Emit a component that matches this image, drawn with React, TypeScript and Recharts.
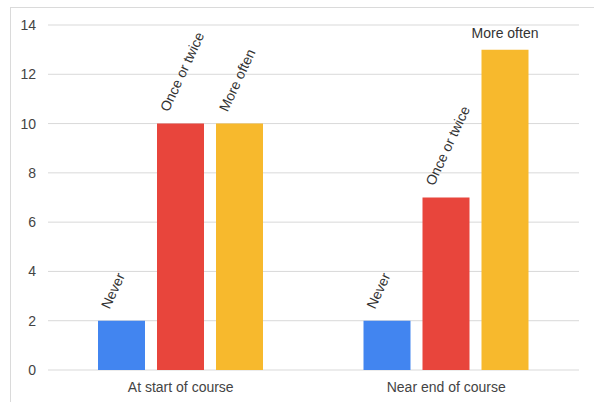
import { BarChart, Bar, XAxis, YAxis, CartesianGrid, LabelList } from 'recharts';

const categories = ['At start of course', 'Near end of course'];
const never = [2, 2];
const onceOrTwice = [10, 7];
const moreOften = [10, 13];
const yTicks = [0, 2, 4, 6, 8, 10, 12, 14];

const SERIES = [
  { key: 'never', name: 'Never', color: '#4285f0' },
  { key: 'once', name: 'Once or twice', color: '#e8453c' },
  { key: 'more', name: 'More often', color: '#f7b92d' },
];

const data = categories.map((c, i) => ({
  name: c,
  never: never[i],
  once: onceOrTwice[i],
  more: moreOften[i],
}));

const FONT = '"Liberation Sans", Arial, sans-serif';

// rotated label unless it would run off the top, then flat above the bar
const makeLabel = (text: string) => (props: any) => {
  const { x, y, width } = props;
  const cx = x + width / 2;
  const approxLen = text.length * 7.6;
  const rotatedHeight = approxLen * Math.sin((65 * Math.PI) / 180);
  if (y - 11 - rotatedHeight < 0) {
    return (
      <text x={cx} y={y - 12} textAnchor="middle" fontSize={14} fill="#333" fontFamily={FONT}>
        {text}
      </text>
    );
  }
  const ax = cx - 12;
  const ay = y - 11;
  return (
    <text
      x={ax}
      y={ay}
      textAnchor="start"
      fontSize={14}
      fill="#333"
      fontFamily={FONT}
      transform={`rotate(-65 ${ax} ${ay})`}
    >
      {text}
    </text>
  );
};

export default function App() {
  return (
    <div style={{ position: 'absolute', left: 0, top: 0, width: 594, height: 402, background: '#fff' }}>
      <div
        style={{
          position: 'absolute',
          left: 10,
          top: 7,
          width: 584,
          height: 395,
          borderTop: '1px solid #dadada',
          borderLeft: '1px solid #dadada',
          boxSizing: 'border-box',
        }}
      />
      <BarChart
        width={594}
        height={402}
        data={data}
        margin={{ top: 25, right: 15, bottom: 0, left: 0 }}
        barCategoryGap={50}
        barGap={12}
        style={{ position: 'absolute', left: 0, top: 0 }}
      >
        <CartesianGrid horizontal vertical={false} stroke="#d9d9d9" />
        <XAxis
          dataKey="name"
          height={32}
          axisLine={false}
          tickLine={false}
          tickMargin={6}
          tick={{ fill: '#444', fontSize: 14, fontFamily: FONT }}
        />
        <YAxis
          width={48}
          domain={[0, 14]}
          ticks={yTicks}
          axisLine={false}
          tickLine={false}
          tickSize={6}
          tickMargin={6}
          tick={{ fill: '#444', fontSize: 14, fontFamily: FONT }}
        />
        {SERIES.map(s => (
          <Bar key={s.key} dataKey={s.key} name={s.name} fill={s.color} isAnimationActive={false}>
            <LabelList dataKey={s.key} content={makeLabel(s.name)} />
          </Bar>
        ))}
      </BarChart>
    </div>
  );
}
